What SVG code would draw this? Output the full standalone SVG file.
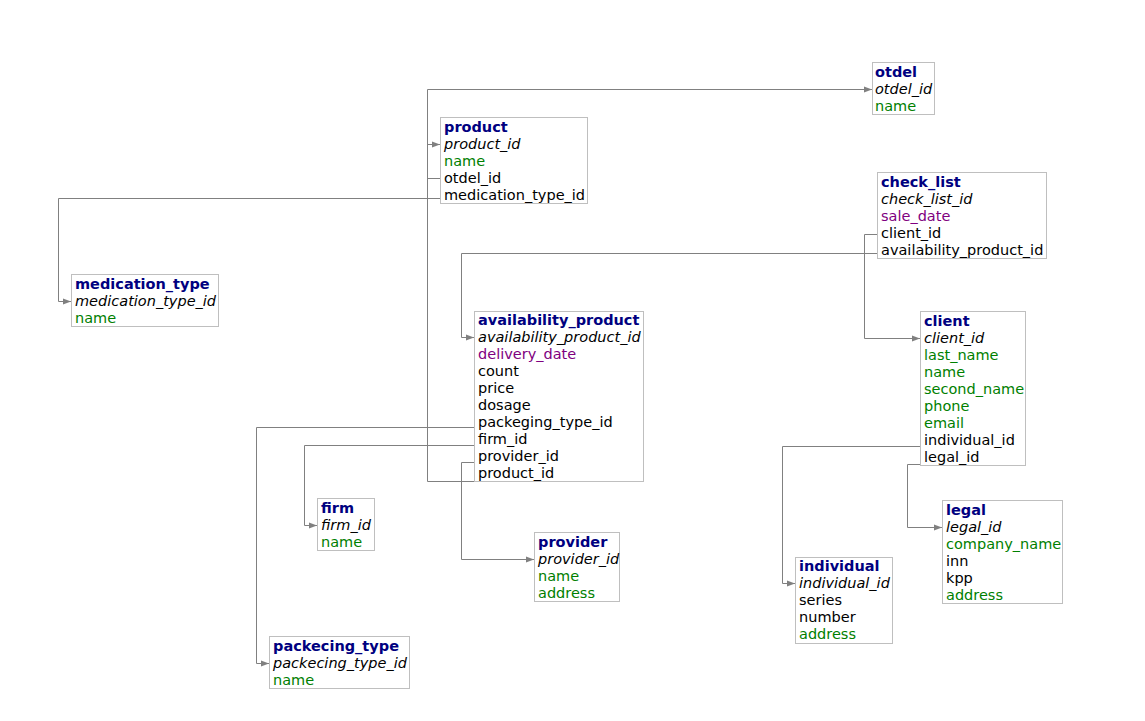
<svg xmlns="http://www.w3.org/2000/svg" width="1145" height="721" viewBox="0 0 1145 721">
<style>
.box{fill:#fff;stroke:#bfbfbf;stroke-width:1}
text{font-family:"DejaVu Sans",Verdana,sans-serif;font-size:14.5px}
.t{font-weight:bold;fill:#000080}
.pk{font-style:italic;fill:#000}
.fk{fill:#000}
.g{fill:#008000}
.d{fill:#800080}
.c{fill:none;stroke:#808080;stroke-width:1}
</style>
<defs>
<marker id="arr" markerUnits="userSpaceOnUse" markerWidth="8" markerHeight="8" refX="8" refY="4" orient="auto">
<path d="M0,1 L8,4 L0,7 z" fill="#808080"/>
</marker>
</defs>
<rect width="1145" height="721" fill="#fff"/>
<g id="connectors">
<path class="c" d="M440 178.5 H427.5 V89.5 H872" marker-end="url(#arr)"/>
<path class="c" d="M474 481.5 H427.5 V144.5 H440" marker-end="url(#arr)"/>
<path class="c" d="M440 198.5 H58.5 V301.5 H71" marker-end="url(#arr)"/>
<path class="c" d="M877 234.5 H864.5 V338.5 H920" marker-end="url(#arr)"/>
<path class="c" d="M877 253.5 H461.5 V337.5 H474" marker-end="url(#arr)"/>
<path class="c" d="M474 427.5 H256.5 V663.5 H269" marker-end="url(#arr)"/>
<path class="c" d="M474 445.5 H304.5 V525.5 H317" marker-end="url(#arr)"/>
<path class="c" d="M474 462.5 H461.5 V559.5 H534" marker-end="url(#arr)"/>
<path class="c" d="M920 446.5 H782.5 V583.5 H795" marker-end="url(#arr)"/>
<path class="c" d="M920 464.5 H907.5 V527.5 H942" marker-end="url(#arr)"/>
</g>
<g id="otdel">
<rect class="box" x="872.5" y="62.5" width="62" height="52"/>
<text x="875" y="77" class="t">otdel</text>
<text x="875" y="94" class="pk">otdel_id</text>
<text x="875" y="111" class="g">name</text>
</g>
<g id="product">
<rect class="box" x="440.5" y="117.5" width="147" height="86"/>
<text x="444" y="132" class="t">product</text>
<text x="444" y="149" class="pk">product_id</text>
<text x="444" y="166" class="g">name</text>
<text x="444" y="183" class="fk">otdel_id</text>
<text x="444" y="200" class="fk">medication_type_id</text>
</g>
<g id="check_list">
<rect class="box" x="877.5" y="172.5" width="169" height="86"/>
<text x="881" y="187" class="t">check_list</text>
<text x="881" y="204" class="pk">check_list_id</text>
<text x="881" y="221" class="d">sale_date</text>
<text x="881" y="238" class="fk">client_id</text>
<text x="881" y="255" class="fk">availability_product_id</text>
</g>
<g id="medication_type">
<rect class="box" x="71.5" y="274.5" width="147" height="52"/>
<text x="75" y="289" class="t">medication_type</text>
<text x="75" y="306" class="pk">medication_type_id</text>
<text x="75" y="323" class="g">name</text>
</g>
<g id="availability_product">
<rect class="box" x="474.5" y="311.5" width="169" height="170"/>
<text x="478" y="325" class="t">availability_product</text>
<text x="478" y="342" class="pk">availability_product_id</text>
<text x="478" y="359" class="d">delivery_date</text>
<text x="478" y="376" class="fk">count</text>
<text x="478" y="393" class="fk">price</text>
<text x="478" y="410" class="fk">dosage</text>
<text x="478" y="427" class="fk">packeging_type_id</text>
<text x="478" y="444" class="fk">firm_id</text>
<text x="478" y="461" class="fk">provider_id</text>
<text x="478" y="478" class="fk">product_id</text>
</g>
<g id="client">
<rect class="box" x="920.5" y="311.5" width="105" height="154"/>
<text x="924" y="326" class="t">client</text>
<text x="924" y="343" class="pk">client_id</text>
<text x="924" y="360" class="g">last_name</text>
<text x="924" y="377" class="g">name</text>
<text x="924" y="394" class="g">second_name</text>
<text x="924" y="411" class="g">phone</text>
<text x="924" y="428" class="g">email</text>
<text x="924" y="445" class="fk">individual_id</text>
<text x="924" y="462" class="fk">legal_id</text>
</g>
<g id="firm">
<rect class="box" x="317.5" y="498.5" width="57" height="52"/>
<text x="321" y="513" class="t">firm</text>
<text x="321" y="530" class="pk">firm_id</text>
<text x="321" y="547" class="g">name</text>
</g>
<g id="legal">
<rect class="box" x="942.5" y="500.5" width="120" height="103"/>
<text x="946" y="515" class="t">legal</text>
<text x="946" y="532" class="pk">legal_id</text>
<text x="946" y="549" class="g">company_name</text>
<text x="946" y="566" class="fk">inn</text>
<text x="946" y="583" class="fk">kpp</text>
<text x="946" y="600" class="g">address</text>
</g>
<g id="provider">
<rect class="box" x="534.5" y="532.5" width="85" height="69"/>
<text x="538" y="547" class="t">provider</text>
<text x="538" y="564" class="pk">provider_id</text>
<text x="538" y="581" class="g">name</text>
<text x="538" y="598" class="g">address</text>
</g>
<g id="individual">
<rect class="box" x="795.5" y="557.5" width="97" height="86"/>
<text x="799" y="571" class="t">individual</text>
<text x="799" y="588" class="pk">individual_id</text>
<text x="799" y="605" class="fk">series</text>
<text x="799" y="622" class="fk">number</text>
<text x="799" y="639" class="g">address</text>
</g>
<g id="packecing_type">
<rect class="box" x="269.5" y="636.5" width="140" height="52"/>
<text x="273" y="651" class="t">packecing_type</text>
<text x="273" y="668" class="pk">packecing_type_id</text>
<text x="273" y="685" class="g">name</text>
</g>
</svg>
